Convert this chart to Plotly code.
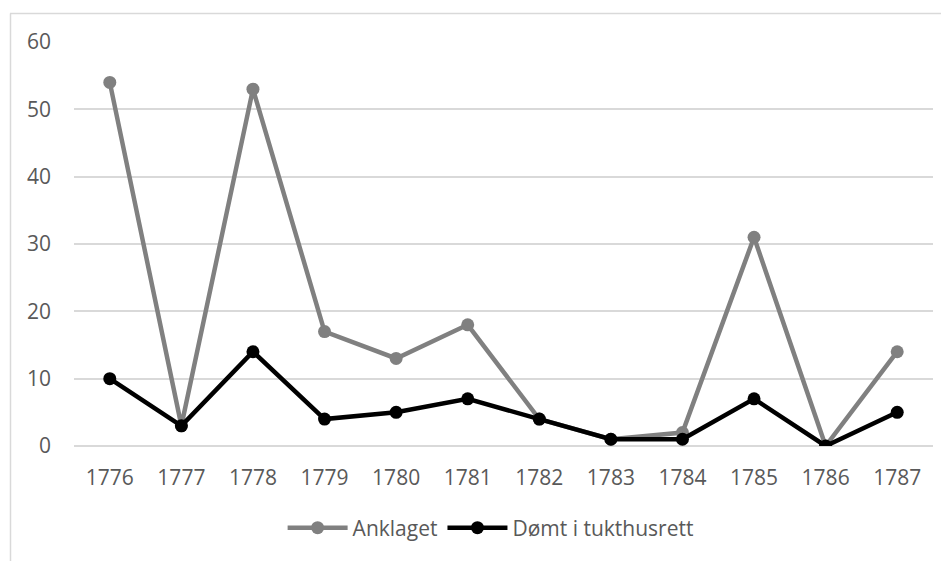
import plotly.graph_objects as go

years = ["1776", "1777", "1778", "1779", "1780", "1781", "1782", "1783", "1784", "1785", "1786", "1787"]
anklaget = [54, 3, 53, 17, 13, 18, 4, 1, 2, 31, 0, 14]
domt = [10, 3, 14, 4, 5, 7, 4, 1, 1, 7, 0, 5]

OFF = 8  # browser body margin
W, H = 949 - OFF, 561 - OFF
L, R, T, B = 74 - OFF, 16, 42 - OFF, 115
pw, ph = W - L - R, H - T - B

font_family = "Open Sans, Liberation Sans, Arial, sans-serif"

fig = go.Figure()
fig.add_trace(go.Scatter(x=years, y=anklaget, name="Anklaget", mode="lines+markers",
                         line=dict(color="#808080", width=4.5),
                         marker=dict(color="#808080", size=13)))
fig.add_trace(go.Scatter(x=years, y=domt, name="Dømt i tukthusrett", mode="lines+markers",
                         line=dict(color="#000000", width=4.5),
                         marker=dict(color="#000000", size=13)))

def px_x(p):
    return (p - OFF - L) / pw

def px_y(p):
    return (H - B - (p - OFF)) / ph

fig.update_layout(
    width=W, height=H,
    margin=dict(l=L, r=R, t=T, b=B),
    paper_bgcolor="white", plot_bgcolor="white",
    font=dict(family=font_family, size=21, color="#595959"),
    xaxis=dict(type="category", range=[-0.5, len(years) - 0.5], showgrid=False,
               zeroline=False, showline=False,
               ticks="", tickfont=dict(size=21, color="#595959"), ticklabelstandoff=17,
               automargin=False),
    yaxis=dict(range=[0, 60], dtick=10, showgrid=True, gridcolor="#d9d9d9", gridwidth=1.5,
               zeroline=True, zerolinecolor="#d9d9d9", zerolinewidth=1.5,
               showline=False, ticks="", tickfont=dict(size=21, color="#595959"),
               ticklabelstandoff=22, automargin=False),
    legend=dict(orientation="h", x=0.485, xanchor="center", y=px_y(528), yanchor="middle",
                font=dict(size=21, color="#595959"), itemwidth=60, traceorder="normal"),
    showlegend=True,
    shapes=[
        dict(type="line", xref="paper", yref="paper", x0=px_x(10), x1=px_x(949 + 5),
             y0=px_y(13.5), y1=px_y(13.5), line=dict(color="#d9d9d9", width=1.5)),
        dict(type="line", xref="paper", yref="paper", x0=px_x(10.5), x1=px_x(10.5),
             y0=px_y(13.5), y1=px_y(561 + 5), line=dict(color="#d9d9d9", width=1.5)),
    ],
)

fig.write_html("out.html")
